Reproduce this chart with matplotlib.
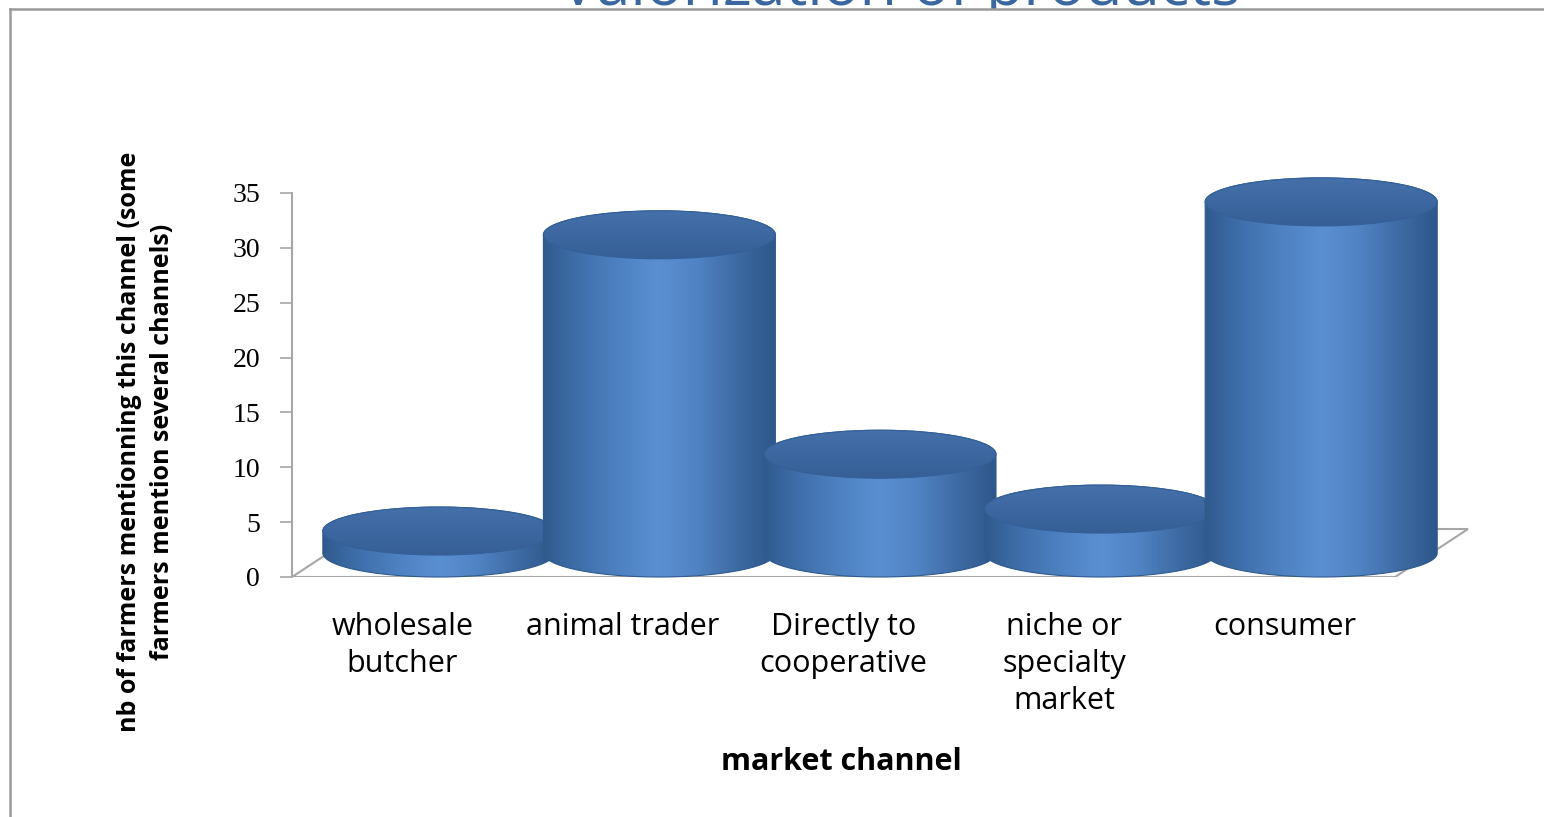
import numpy as np
import matplotlib.pyplot as plt
from matplotlib.patches import Ellipse, PathPatch, Polygon, Rectangle
from matplotlib.path import Path
from matplotlib.colors import LinearSegmentedColormap
from matplotlib.lines import Line2D

categories = ["wholesale\nbutcher", "animal trader", "Directly to\ncooperative",
              "niche or\nspecialty\nmarket", "consumer"]
values = [2, 29, 9, 4, 32]
yticks = [0, 5, 10, 15, 20, 25, 30, 35]

W, H = 1544, 817
fig = plt.figure(figsize=(W / 100, H / 100), dpi=100)
fig.patch.set_facecolor("white")

# axes placed so that front floor edge is 292..1395 px, 0..35 -> 577..193 px
px_per_cat = (1395 - 292) / 5
px_per_unit = (577 - 193) / 35
xmin, xmax = -0.5, 5.2
ymin, ymax = 0, 40
ax_w = (xmax - xmin) * px_per_cat
ax_h = (ymax - ymin) * px_per_unit
ax = fig.add_axes([292 / W, (H - 577) / H, ax_w / W, ax_h / H])
ax.set_xlim(xmin, xmax)
ax.set_ylim(ymin, ymax)
ax.patch.set_alpha(0)

# pseudo 3d geometry (data units)
depth_dx, depth_dy = 73 / px_per_cat, 48 / px_per_unit
r = 116 / px_per_cat
b = 24 / px_per_unit

# floor
floor = Polygon([(-0.5, 0), (4.5, 0), (4.5 + depth_dx, depth_dy),
                 (-0.5 + depth_dx, depth_dy)], closed=True,
                facecolor="white", edgecolor="#a6a6a6", lw=1.5, zorder=1)
ax.add_patch(floor)

body_cmap = LinearSegmentedColormap.from_list(
    "body", ["#2f5a8e", "#4171ad", "#4e82c2", "#5a8fd2", "#5083c3", "#3e6ba4", "#2e578a"],
)
top_cmap = LinearSegmentedColormap.from_list("top", ["#365f96", "#3c67a0", "#4570aa"])
grad = np.linspace(0, 1, 256).reshape(1, -1)
vgrad = np.linspace(0, 1, 256).reshape(-1, 1)

for i, v in enumerate(values):
    cx = i + depth_dx / 2
    base = depth_dy / 2
    top = base + v
    t = np.linspace(np.pi, 2 * np.pi, 100)
    arc_x = cx + r * np.cos(t)
    arc_y = base + b * np.sin(t)
    t2 = np.linspace(0, np.pi, 100)
    arc2_x = cx + r * np.cos(t2)
    arc2_y = top + b * np.sin(t2)
    verts = np.vstack([np.column_stack([arc_x, arc_y]),
                       np.column_stack([arc2_x, arc2_y]),
                       [[arc_x[0], arc_y[0]]]])
    codes = [Path.MOVETO] + [Path.LINETO] * (len(verts) - 2) + [Path.CLOSEPOLY]
    body = PathPatch(Path(verts, codes), facecolor="none", edgecolor="#2f5a8c",
                     lw=0.8, zorder=3 + i * 3, clip_on=False)
    ax.add_patch(body)
    im = ax.imshow(grad, cmap=body_cmap, aspect="auto", zorder=2 + i * 3,
                   extent=[cx - r, cx + r, base - b, top + b], interpolation="bicubic")
    im.set_clip_path(body)

    lid = Ellipse((cx, top), 2 * r, 2 * b, facecolor="none", edgecolor="#34609a",
                  lw=0.8, zorder=4 + i * 3, clip_on=False)
    ax.add_patch(lid)
    im2 = ax.imshow(vgrad, cmap=top_cmap, aspect="auto", zorder=3.5 + i * 3,
                    extent=[cx - r, cx + r, top - b, top + b], origin="lower",
                    interpolation="bicubic")
    im2.set_clip_path(lid)

ax.set_xlim(xmin, xmax)
ax.set_ylim(ymin, ymax)

for s in ["top", "right", "bottom"]:
    ax.spines[s].set_visible(False)
ax.spines["left"].set_bounds(0, 35)
ax.spines["left"].set_color("#a6a6a6")
ax.spines["left"].set_linewidth(1.5)
ax.spines["left"].set_zorder(0.5)

ax.set_yticks(yticks)
ax.set_yticklabels([str(y) for y in yticks], family="Liberation Serif", fontsize=20)
ax.tick_params(axis="y", length=9, width=1.2, color="#a6a6a6", pad=14)
ax.set_xticks(range(len(categories)))
ax.set_xticklabels(categories, family="Open Sans", fontsize=22, linespacing=1.32,
                   va="top")
ax.tick_params(axis="x", length=0, pad=25)

ax.set_xlabel("market channel", family="Open Sans", fontsize=22, fontweight="bold",
              va="top")
ax.xaxis.set_label_coords((841 - 292) / ax_w, -(747 - 577) / ax_h)

fig.text(146 / W, 1 - 442 / H,
         "nb of farmers mentionning this channel (some\nfarmers mention several channels)",
         rotation=90, ha="center", va="center", multialignment="center",
         family="Open Sans", fontsize=18, fontweight="bold", linespacing=1.4)

# slide title sits behind the chart box, only its lower edge shows
fig.text(900 / W, 1 - 5 / H, "Valorization of products", ha="center", va="baseline",
         family="Open Sans", fontsize=44, color="#3a67a0", zorder=-2)
fig.add_artist(Rectangle((10 / W, 0), 1 - 10 / W, 1 - 9 / H, transform=fig.transFigure,
                         facecolor="white", edgecolor="none", zorder=-1))
fig.add_artist(Line2D([10 / W, 1.0], [1 - 9 / H, 1 - 9 / H], transform=fig.transFigure,
                      color="#9a9a9a", lw=1.8))
fig.add_artist(Line2D([10 / W, 10 / W], [0, 1 - 9 / H], transform=fig.transFigure,
                      color="#9a9a9a", lw=1.8))

fig.savefig("out.png", dpi=100, facecolor="white")
